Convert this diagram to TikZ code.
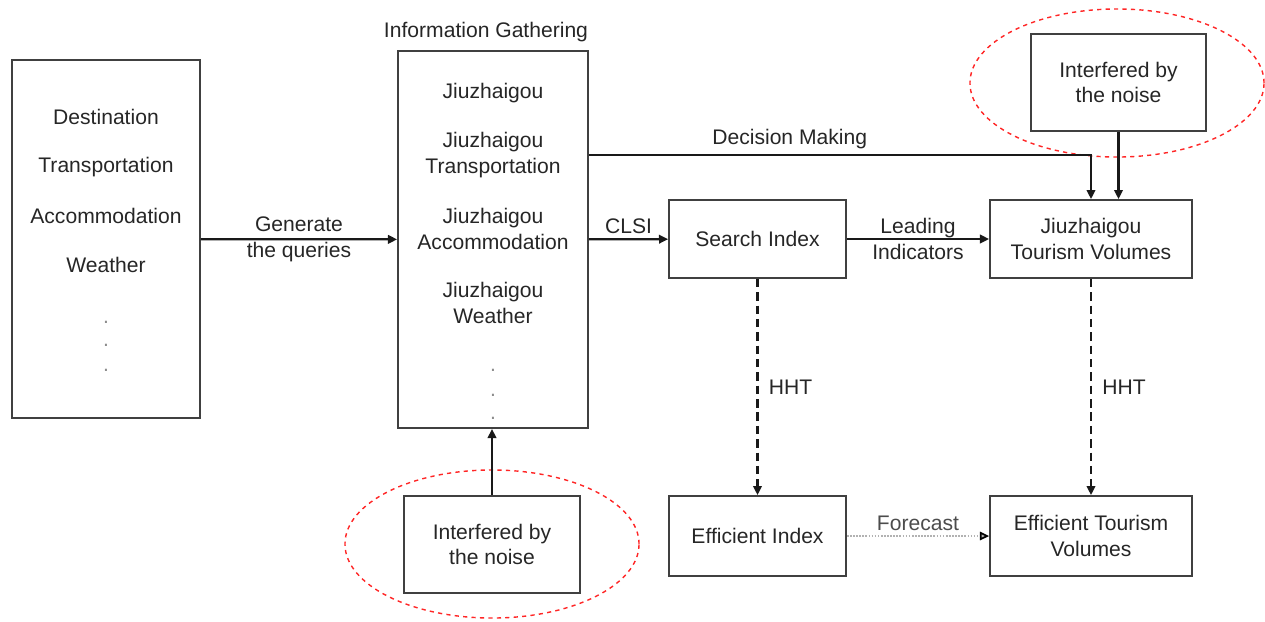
\documentclass[tikz,border=0pt]{standalone}
\usepackage{fontspec}
\setmainfont{Liberation Sans}
\usetikzlibrary{arrows.meta,shapes.geometric}

\begin{document}
\begin{tikzpicture}[x=0.025cm, y=-0.025cm,
  every node/.style={font=\fontsize{15}{18}\selectfont, text=black!85},
  box/.style={draw=black!75, line width=1.2pt, rectangle},
  dot/.style={text=black!45},
  arr/.style={-{Triangle[length=6.5pt,width=6pt]}, line width=1.6pt, color=black!90},
  dash arr/.style={arr, dash pattern=on 6pt off 3.5pt},
  fc arr/.style={-{Triangle[length=6.5pt,width=6pt,color=black]}, color=black!30, densely dotted, line width=1.2pt},
  noise/.style={ellipse, draw=red!85, dash pattern=on 3pt off 3pt, line width=1pt, inner sep=0pt,
    minimum width=7.35cm, minimum height=3.7cm}]
  \useasboundingbox (0,0) rectangle (1265,621);

  % query words
  \node[box, minimum width=4.7cm, minimum height=8.95cm] (src) at (106,239) {};
  \foreach \t/\y in {Destination/117, Transportation/167, Accommodation/216, Weather/265}
    \node (s-\y) at (106,\y) {\t};
  \foreach \y in {322,345,370}
    \node[dot] (sd-\y) at (106,\y) {.};

  % gathering
  \node[box, minimum width=4.75cm, minimum height=9.425cm] (info) at (493,239.5) {};
  \node (ig) at (486,32) {Information Gathering};
  \node (i-1) at (493,93) {Jiuzhaigou};
  \node[align=center] (i-2) at (493,155) {Jiuzhaigou\\Transportation};
  \node[align=center] (i-3) at (493,229) {Jiuzhaigou\\Accommodation};
  \node[align=center] (i-4) at (493,303) {Jiuzhaigou\\Weather};
  \foreach \y in {370,395,418}
    \node[dot] (id-\y) at (493,\y) {.};

  \node[box, minimum width=4.425cm, minimum height=1.95cm] (si) at (757.5,239) {Search Index};
  \node[box, align=center, minimum width=5.05cm, minimum height=1.95cm] (jtv) at (1091,239) {Jiuzhaigou\\Tourism Volumes};
  \node[box, minimum width=4.425cm, minimum height=2cm] (ei) at (757.5,536) {Efficient Index};
  \node[box, align=center, minimum width=5.05cm, minimum height=2cm] (etv) at (1091,536) {Efficient Tourism\\Volumes};

  % noise
  \node[box, align=center, minimum width=4.375cm, minimum height=2.425cm] (nz1) at (1118.5,82.5) {Interfered by\\the noise};
  \node[box, align=center, minimum width=4.4cm, minimum height=2.425cm] (nz2) at (492,544.5) {Interfered by\\the noise};
  \node[noise] (e1) at (1117,83) {};
  \node[noise] (e2) at (492,544) {};

  \path[arr]
  (src) edge node[align=center] {Generate\\the queries} (info)
  (info) edge node[above] {CLSI} (si)
  (si) edge node[align=center] {Leading\\Indicators} (jtv)
  (nz1.south) edge (nz1.south |- jtv.north)
  (nz2.north) edge (nz2.north |- info.south)
  ;
  \draw[arr] ([yshift=2.11cm]info.east) -| node[above, pos=0.2] {Decision Making} (jtv.north);
  \path[dash arr]
  (si) edge node[right, xshift=4pt] {HHT} (ei)
  (jtv) edge node[right, xshift=4pt] {HHT} (etv)
  ;
  \path[fc arr] (ei) edge node[above, text=black!70] {Forecast} (etv);
\end{tikzpicture}
\end{document}
